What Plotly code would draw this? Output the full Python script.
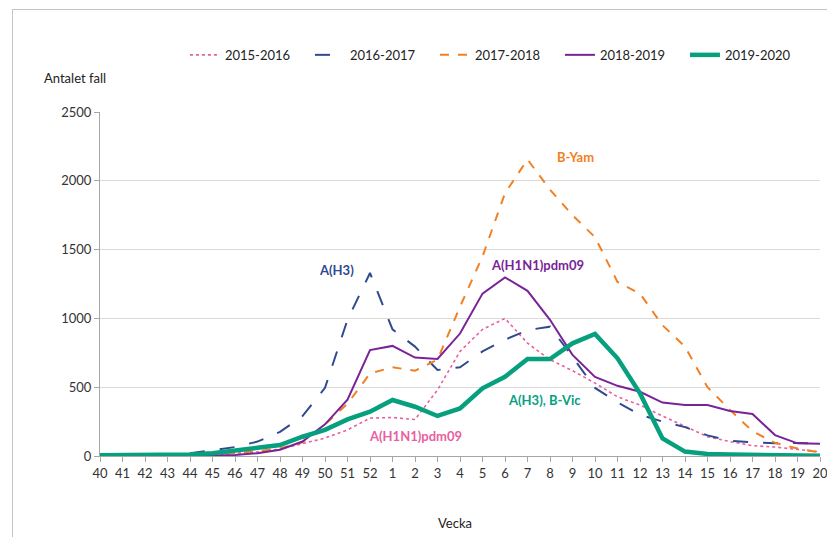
import plotly.graph_objects as go

weeks = [str(w) for w in range(40, 53)] + [str(w) for w in range(1, 21)]

s_2015_2016 = [2, 2, 3, 4, 6, 10, 18, 30, 50, 90, 130, 190, 275,
               280, 265, 480, 760, 920, 1000, 820, 700, 620, 530, 430, 370, 290, 215, 140, 105, 75, 65, 50, 30]
s_2016_2017 = [2, 3, 4, 8, 20, 45, 65, 105, 175, 290, 495, 990, 1330,
               920, 795, 625, 645, 760, 845, 915, 940, 720, 495, 390, 300, 250, 210, 150, 110, 100, 92, 95, 90]
s_2017_2018 = [1, 1, 2, 3, 5, 12, 22, 35, 55, 100, 230, 380, 600,
               645, 620, 700, 1085, 1450, 1910, 2155, 1935, 1750, 1590, 1265, 1180, 950, 795, 500, 335, 180, 95, 55, 25]
s_2018_2019 = [0, 0, 0, 1, 2, 4, 8, 20, 45, 105, 230, 410, 770,
               800, 715, 705, 890, 1180, 1298, 1200, 990, 735, 575, 510, 467, 388, 371, 371, 327, 305, 152, 92, 89]
s_2019_2020 = [5, 5, 5, 6, 10, 20, 44, 60, 80, 140, 190, 266, 322,
               407, 358, 291, 346, 492, 576, 705, 705, 819, 887, 710, 455, 128, 32, 15, 10, 6, 4, 3, 2]

series = [
    ("2015-2016", s_2015_2016, "#E8609F", "dot", 1.6),
    ("2016-2017", s_2016_2017, "#2F4A8F", "longdash", 2),
    ("2017-2018", s_2017_2018, "#F28023", "dash", 2),
    ("2018-2019", s_2018_2019, "#7A2398", "solid", 2),
    ("2019-2020", s_2019_2020, "#06A07F", "solid", 4.5),
]

FONT = "Lato, Open Sans, sans-serif"

fig = go.Figure()
for name, vals, color, dash, width in series:
    fig.add_trace(go.Scatter(
        x=weeks, y=vals, name=name, mode="lines",
        line=dict(color=color, dash=dash, width=width),
    ))

# chart frame, drawn as an empty bordered annotation so it is not clipped
fig.add_annotation(x=-0.122, y=1.299, xref="paper", yref="paper", text=" ",
                   xanchor="left", yanchor="top", showarrow=False,
                   width=840, height=560, borderpad=0,
                   bordercolor="#C4C4C4", borderwidth=1)

labels = [
    ("A(H3)", 0.329, 0.541, "#2F4A8F"),
    ("B-Yam", 0.660, 0.869, "#F28023"),
    ("A(H1N1)pdm09", 0.608, 0.555, "#7A2398"),
    ("A(H3), B-Vic", 0.618, 0.163, "#06A07F"),
    ("A(H1N1)pdm09", 0.4375, 0.058, "#E8609F"),
]
for text, x, y, color in labels:
    fig.add_annotation(x=x, y=y, xref="paper", yref="paper", text="<b>%s</b>" % text,
                       xanchor="center", yanchor="middle", showarrow=False,
                       font=dict(size=13, color=color, family=FONT))

fig.add_annotation(x=-0.08, y=1.10, xref="paper", yref="paper", text="Antalet fall",
                   showarrow=False, xanchor="left", yanchor="middle",
                   font=dict(size=13, color="#222222", family=FONT))
fig.add_annotation(x=0.493, y=-0.195, xref="paper", yref="paper", text="Vecka",
                   showarrow=False, xanchor="center", yanchor="middle",
                   font=dict(size=13, color="#222222", family=FONT))
fig.add_annotation(x=-0.125, y=1.322, xref="paper", yref="paper",
                   text="<b>Antal laboratoriebekräftade influensafall (alla typer) per vecka, samt subtyper</b>",
                   showarrow=False, xanchor="left", yanchor="bottom",
                   font=dict(size=17, color="#111111", family=FONT))

# the page body adds an 8px margin, so the figure is 8px smaller than the window
fig.update_layout(
    width=827, height=529,
    margin=dict(l=92, r=15, t=104, b=81),
    plot_bgcolor="rgba(0,0,0,0)", paper_bgcolor="white",
    font=dict(family=FONT, size=13, color="#333333"),
    showlegend=True,
    legend=dict(orientation="h", x=0.118, y=1.166, xanchor="left", yanchor="middle",
                entrywidth=80, entrywidthmode="pixels", font=dict(size=13, color="#222222"),
                bgcolor="rgba(0,0,0,0)"),
    xaxis=dict(type="category", range=[0, 32], showgrid=False, showline=True, linecolor="#A6A6A6",
               ticks="outside", ticklen=5, tickcolor="#A6A6A6", tickfont=dict(size=13, color="#333333"),
               automargin=False),
    yaxis=dict(range=[0, 2500], dtick=500, showgrid=True, gridcolor="#DADADA", showline=True,
               linecolor="#A6A6A6", ticks="outside", ticklen=5, tickcolor="#A6A6A6", zeroline=False,
               tickfont=dict(size=13, color="#333333"), automargin=False),
)

fig.write_html("out.html")
